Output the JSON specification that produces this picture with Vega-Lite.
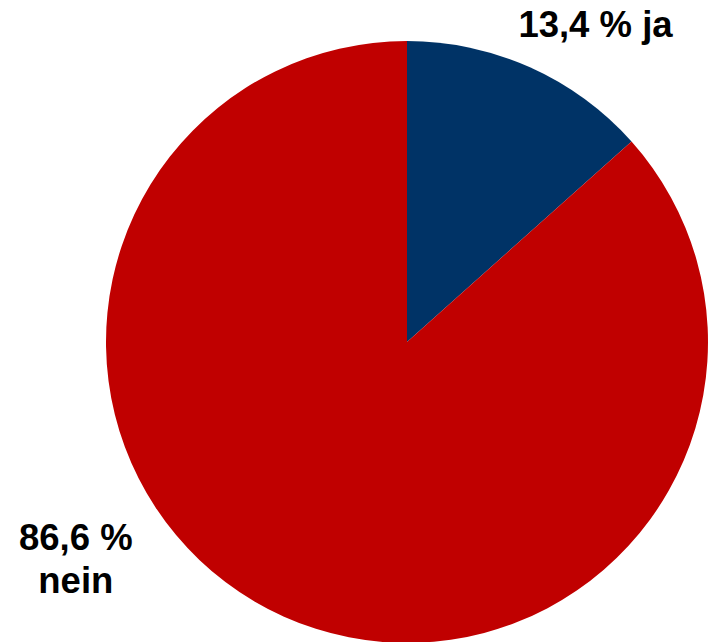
{
  "$schema": "https://vega.github.io/schema/vega-lite/v6.json",
  "width": 602,
  "height": 602,
  "autosize": {"type": "none"},
  "padding": {"left": 106, "top": 41, "right": 3, "bottom": 0},
  "background": "white",
  "view": {"stroke": null},
  "data": {
    "values": [
      {"antwort": "ja", "anteil": 13.4, "label": "13,4 % ja"},
      {"antwort": "nein", "anteil": 86.6, "label": "86,6 %\nnein"}
    ]
  },
  "encoding": {
    "theta": {"field": "anteil", "type": "quantitative", "stack": true},
    "order": {"field": "antwort", "sort": "ascending"}
  },
  "layer": [
    {
      "mark": {"type": "arc", "outerRadius": 301},
      "encoding": {
        "color": {
          "field": "antwort",
          "type": "nominal",
          "scale": {"domain": ["ja", "nein"], "range": ["#003366", "#C00000"]},
          "legend": null
        }
      }
    },
    {
      "mark": {"type": "text", "radius": 334, "dx": 52, "dy": 0, "align": "center", "baseline": "alphabetic", "font": "Liberation Sans", "fontWeight": "bold", "fontSize": 36.5, "color": "black"},
      "encoding": {
        "detail": {"field": "antwort"},
        "text": {"condition": {"test": "datum.antwort === 'ja'", "field": "label"}, "value": ""}
      }
    },
    {
      "mark": {"type": "text", "radius": 228, "dx": -238, "dy": 0, "align": "center", "baseline": "alphabetic", "lineBreak": "\n", "lineHeight": 43, "font": "Liberation Sans", "fontWeight": "bold", "fontSize": 36.5, "color": "black"},
      "encoding": {
        "detail": {"field": "antwort"},
        "text": {"condition": {"test": "datum.antwort === 'nein'", "field": "label"}, "value": ""}
      }
    }
  ]
}
